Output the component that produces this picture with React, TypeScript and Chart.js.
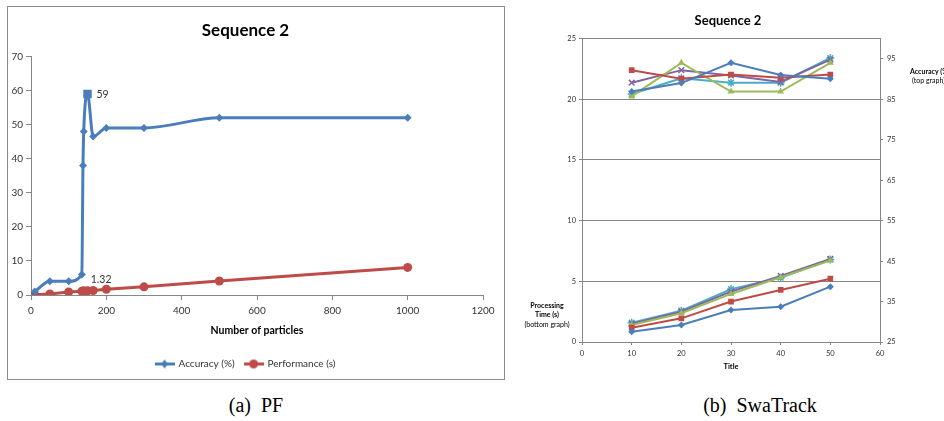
import React, { useEffect, useRef } from "react";
import { Chart, registerables } from "chart.js";

Chart.register(...registerables);

const FONT = "Lato, 'Open Sans', 'Liberation Sans', sans-serif";

// ---------- (a) PF ----------
const pfTitle = "Sequence 2";
const pfXLabel = "Number of particles";
const pfParticles = [10, 50, 100, 135, 138, 140, 150, 165, 200, 300, 500, 1000];
const pfAccuracy = [1, 4, 4, 6, 38, 48, 59, 46.5, 49, 49, 52, 52];
const pfPerformance = [0.05, 0.3, 0.9, 1.1, 1.15, 1.2, 1.25, 1.32, 1.7, 2.4, 4.1, 8.1];
const pfSeriesNames = ["Accuracy (%)", "Performance (s)"];
const pfXMax = 1200;
const pfXStep = 200;
const pfYMax = 70;
const pfYStep = 10;

// ---------- (b) SwaTrack ----------
const swTitle = "Sequence 2";
const swXLabel = "Title";
const swX = [10, 20, 30, 40, 50];
const swAccBlue = [86.9, 89.0, 94.0, 91.0, 90.1];
const swAccRed = [92.2, 90.1, 91.1, 90.3, 91.1];
const swAccGreen = [85.7, 94.0, 86.9, 86.9, 94.0];
const swAccPurple = [89.1, 92.2, 90.9, 89.3, 94.8];
const swAccCyan = [86.3, 90.2, 89.1, 89.1, 95.2];
const swTimeBlue = [0.85, 1.4, 2.64, 2.91, 4.56];
const swTimeRed = [1.18, 1.95, 3.33, 4.29, 5.22];
const swTimeGreen = [1.4, 2.37, 3.96, 5.34, 6.71];
const swTimePurple = [1.5, 2.5, 4.15, 5.45, 6.85];
const swTimeCyan = [1.59, 2.58, 4.35, 5.3, 6.8];
const swAccTicks = [25, 35, 45, 55, 65, 75, 85, 95];

const BLUE = "#4A7EBB";
const RED = "#BE4B48";
const GREEN = "#9BBB59";
const PURPLE = "#8064A2";
const CYAN = "#4BACC6";
const AXIS = "#868686";
const TXT = "#333333";

function pts(xs: number[], ys: number[]) {
  return xs.map((x, i) => ({ x, y: ys[i] }));
}

function legendIcon(color: string, kind: "diamond" | "circle") {
  const c = document.createElement("canvas");
  c.width = 20;
  c.height = 11;
  const ctx = c.getContext("2d")!;
  ctx.strokeStyle = color;
  ctx.lineWidth = 3;
  ctx.beginPath();
  ctx.moveTo(0, 5.5);
  ctx.lineTo(20, 5.5);
  ctx.stroke();
  ctx.fillStyle = color;
  ctx.beginPath();
  if (kind === "diamond") {
    ctx.moveTo(10, 1);
    ctx.lineTo(13.5, 5.5);
    ctx.lineTo(10, 10);
    ctx.lineTo(6.5, 5.5);
    ctx.closePath();
  } else {
    ctx.arc(10, 5.5, 4.5, 0, Math.PI * 2);
  }
  ctx.fill();
  return c;
}

const pfLabelPlugin = {
  id: "pfLabels",
  afterDatasetsDraw(chart: any) {
    const ctx = chart.ctx;
    ctx.save();
    ctx.font = `10.5px ${FONT}`;
    ctx.fillStyle = TXT;
    ctx.textBaseline = "middle";
    const accIdx = pfAccuracy.indexOf(Math.max(...pfAccuracy));
    const p = chart.getDatasetMeta(0).data[accIdx];
    ctx.textAlign = "left";
    ctx.fillText(String(pfAccuracy[accIdx]), p.x + 9, p.y + 1);
    const perfIdx = pfPerformance.indexOf(1.32);
    const q = chart.getDatasetMeta(1).data[perfIdx];
    ctx.textAlign = "center";
    ctx.fillText(String(pfPerformance[perfIdx]), q.x + 8, q.y - 11);
    ctx.restore();
  },
};

function pfConfig(): any {
  const icons = [legendIcon(BLUE, "diamond"), legendIcon(RED, "circle")];
  return {
    type: "line",
    data: {
      datasets: [
        {
          label: pfSeriesNames[0],
          data: pts(pfParticles, pfAccuracy),
          borderColor: BLUE,
          backgroundColor: BLUE,
          borderWidth: 3,
          cubicInterpolationMode: "monotone",
          pointStyle: (c: any) => (c.dataIndex === 6 ? "rect" : "rectRot"),
          pointRadius: (c: any) => (c.dataIndex === 6 ? 6 : 4),
          pointBorderWidth: 0,
        },
        {
          label: pfSeriesNames[1],
          data: pts(pfParticles, pfPerformance),
          borderColor: RED,
          backgroundColor: RED,
          borderWidth: 3,
          pointStyle: "circle",
          pointRadius: 4.5,
          pointBorderWidth: 0,
        },
      ],
    },
    options: {
      animation: false,
      responsive: false,
      layout: { padding: { left: 0, right: 21, top: 0, bottom: 0 } },
      plugins: {
        title: {
          display: true,
          text: pfTitle,
          color: "#000",
          font: { family: FONT, size: 17, weight: "bold" },
          padding: { top: 13, bottom: 16 },
        },
        legend: {
          display: true,
          position: "bottom",
          labels: {
            usePointStyle: true,
            pointStyleWidth: 18,
            padding: 10,
            color: TXT,
            font: { family: FONT, size: 10 },
            generateLabels: (chart: any) =>
              chart.data.datasets.map((ds: any, i: number) => ({
                text: ds.label,
                pointStyle: icons[i],
                fillStyle: ds.borderColor,
                strokeStyle: ds.borderColor,
                lineWidth: 0,
                hidden: false,
                datasetIndex: i,
                fontColor: TXT,
              })),
          },
        },
        tooltip: { enabled: false },
      },
      scales: {
        x: {
          type: "linear",
          min: 0,
          max: pfXMax,
          afterFit: (s: any) => {
            s.height = 54;
          },
          ticks: {
            stepSize: pfXStep,
            color: TXT,
            font: { family: FONT, size: 10 },
            padding: 5,
            maxRotation: 0,
            callback: (v: any) => String(v),
          },
          grid: { drawOnChartArea: false, drawTicks: true, tickLength: 5, color: AXIS },
          border: { display: true, color: AXIS, width: 1 },
          title: {
            display: true,
            text: pfXLabel,
            color: "#000",
            font: { family: FONT, size: 10.5, weight: "bold" },
            padding: { top: 0, bottom: 12 },
          },
        },
        y: {
          type: "linear",
          min: 0,
          max: pfYMax,
          afterFit: (s: any) => {
            s.width = 23;
          },
          ticks: {
            stepSize: pfYStep,
            color: TXT,
            font: { family: FONT, size: 10 },
            padding: 3,
            callback: (v: any) => String(v),
          },
          grid: { drawOnChartArea: false, drawTicks: true, tickLength: 5, color: AXIS },
          border: { display: true, color: AXIS, width: 1 },
        },
      },
    },
    plugins: [pfLabelPlugin],
  };
}

const swAxisTitlePlugin = {
  id: "swAxisTitles",
  afterDraw(chart: any) {
    const ctx = chart.ctx;
    const a = chart.chartArea;
    ctx.save();
    ctx.fillStyle = "#000";
    ctx.textBaseline = "middle";
    ctx.textAlign = "center";
    const lx = 35;
    ctx.font = `bold 7px ${FONT}`;
    ctx.fillText("Processing", lx, a.bottom - 36);
    ctx.fillText("Time (s)", lx, a.bottom - 27);
    ctx.font = `7px ${FONT}`;
    ctx.fillText("(bottom graph)", lx, a.bottom - 17);
    ctx.textAlign = "left";
    ctx.font = `bold 7px ${FONT}`;
    ctx.fillText("Accuracy (%)", a.right + 30, a.top + 33);
    ctx.font = `7px ${FONT}`;
    ctx.fillText("(top graph)", a.right + 32, a.top + 42);
    ctx.restore();
  },
};

function swDataset(label: string, values: number[], color: string, style: string, axis: string, r: number) {
  return {
    label,
    data: pts(swX, values),
    yAxisID: axis,
    borderColor: color,
    backgroundColor: color,
    borderWidth: 2,
    pointStyle: style,
    pointRadius: r,
    pointBorderColor: color,
    pointBackgroundColor: color,
    pointBorderWidth: style === "crossRot" || style === "star" ? 1.5 : 0,
    tension: 0,
  };
}

function swConfig(): any {
  return {
    type: "line",
    data: {
      datasets: [
        swDataset("Accuracy 1", swAccBlue, BLUE, "rectRot", "y2", 3.5),
        swDataset("Accuracy 2", swAccRed, RED, "rect", "y2", 4),
        swDataset("Accuracy 3", swAccGreen, GREEN, "triangle", "y2", 4),
        swDataset("Accuracy 4", swAccPurple, PURPLE, "crossRot", "y2", 4),
        swDataset("Accuracy 5", swAccCyan, CYAN, "star", "y2", 4),
        swDataset("Time 1", swTimeBlue, BLUE, "rectRot", "y", 3.5),
        swDataset("Time 2", swTimeRed, RED, "rect", "y", 4),
        swDataset("Time 3", swTimeGreen, GREEN, "triangle", "y", 4),
        swDataset("Time 4", swTimePurple, PURPLE, "crossRot", "y", 4),
        swDataset("Time 5", swTimeCyan, CYAN, "star", "y", 4),
      ],
    },
    options: {
      animation: false,
      responsive: false,
      layout: { padding: { left: 0, right: 0, top: 0, bottom: 0 } },
      plugins: {
        title: {
          display: true,
          text: swTitle,
          color: "#000",
          font: { family: FONT, size: 13, weight: "bold" },
          padding: { top: 13, bottom: 10 },
        },
        legend: { display: false },
        tooltip: { enabled: false },
      },
      scales: {
        x: {
          type: "linear",
          min: 0,
          max: 60,
          afterFit: (s: any) => {
            s.height = 38;
          },
          ticks: { stepSize: 10, color: TXT, font: { family: FONT, size: 7.5 }, padding: 4, maxRotation: 0 },
          grid: { drawOnChartArea: false, drawTicks: true, tickLength: 3, color: AXIS },
          border: { display: true, color: AXIS, width: 1 },
          title: {
            display: true,
            text: swXLabel,
            color: "#000",
            font: { family: FONT, size: 7.5, weight: "bold" },
            padding: { top: 0, bottom: 9 },
          },
        },
        y: {
          type: "linear",
          position: "left",
          min: 0,
          max: 25,
          afterFit: (s: any) => {
            s.width = 70;
          },
          ticks: { stepSize: 5, color: TXT, font: { family: FONT, size: 7.5 }, padding: 3 },
          grid: { drawOnChartArea: true, drawTicks: true, tickLength: 3, color: AXIS },
          border: { display: true, color: AXIS, width: 1 },
        },
        y2: {
          type: "linear",
          position: "right",
          min: 25,
          max: 100,
          afterFit: (s: any) => {
            s.width = 64;
          },
          afterBuildTicks: (s: any) => {
            s.ticks = swAccTicks.map((v) => ({ value: v }));
          },
          ticks: { color: TXT, font: { family: FONT, size: 7.5 }, padding: 4 },
          grid: { drawOnChartArea: false, drawTicks: true, tickLength: 3, color: AXIS },
          border: { display: true, color: AXIS, width: 1 },
        },
      },
    },
    plugins: [swAxisTitlePlugin],
  };
}

export default function App() {
  const leftRef = useRef<HTMLCanvasElement>(null);
  const rightRef = useRef<HTMLCanvasElement>(null);

  useEffect(() => {
    const c1 = new Chart(leftRef.current!, pfConfig());
    const c2 = new Chart(rightRef.current!, swConfig());
    return () => {
      c1.destroy();
      c2.destroy();
    };
  }, []);

  const caption: React.CSSProperties = {
    position: "absolute",
    top: 392,
    width: 300,
    textAlign: "center",
    fontFamily: "'Liberation Serif', 'DejaVu Serif', serif",
    fontSize: 20,
    lineHeight: "26px",
    color: "#000",
    whiteSpace: "pre",
  };

  return (
    <div
      style={{
        position: "absolute",
        left: 0,
        top: 0,
        width: 944,
        height: 421,
        overflow: "hidden",
        background: "#fff",
      }}
    >
      <div
        style={{
          position: "absolute",
          left: 7,
          top: 6,
          width: 498,
          height: 374,
          border: "1px solid #8c8c8c",
          boxSizing: "border-box",
        }}
      >
        <canvas ref={leftRef} width={496} height={372} style={{ display: "block" }} />
      </div>
      <canvas
        ref={rightRef}
        width={432}
        height={380}
        style={{ position: "absolute", left: 512, top: 0, display: "block" }}
      />
      <div style={{ ...caption, left: 256 - 150 }}>{"(a)  PF"}</div>
      <div style={{ ...caption, left: 760 - 150 }}>{"(b)  SwaTrack"}</div>
    </div>
  );
}
